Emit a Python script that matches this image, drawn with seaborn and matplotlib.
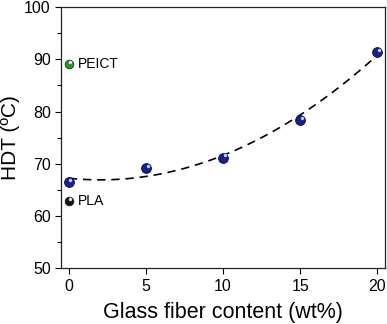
import numpy as np
import pandas as pd
import seaborn as sns
import matplotlib.pyplot as plt
from matplotlib.ticker import MultipleLocator

# glass fiber series (PLA/PEICT blend)
gf_content = [0, 5, 10, 15, 20]
gf_hdt = [66.5, 69.2, 71.2, 78.3, 91.4]

# neat references
ref_names = ["PEICT", "PLA"]
ref_hdt = [89.1, 62.9]
ref_colors = ["#1f9a1f", "#111111"]

df = pd.DataFrame({"gf": gf_content, "hdt": gf_hdt})

sns.set_theme(style="ticks", rc={"text.color": "black", "axes.labelcolor": "black",
                                 "xtick.color": "black", "ytick.color": "black",
                                 "axes.edgecolor": "#222222"})
plt.rcParams['font.family'] = ['Liberation Sans', 'DejaVu Sans']

fig, ax = plt.subplots(figsize=(3.87, 3.24), dpi=100)

# quadratic fit, dashed
sns.regplot(data=df, x="gf", y="hdt", order=2, ci=None, scatter=False, ax=ax,
            line_kws=dict(color="black", lw=1.2, ls=(0, (5, 3.5))))

# sphere-ish markers: dark body + small highlight
sns.scatterplot(data=df, x="gf", y="hdt", ax=ax, s=50, color="#15218f",
                edgecolor="#0a0f50", linewidth=0.6, zorder=5)
ax.scatter(df["gf"] + 0.1, np.array(gf_hdt) + 0.4, s=6, color="#c8ccf0",
           linewidths=0, zorder=6)

for name, val, col in zip(ref_names, ref_hdt, ref_colors):
    ax.scatter([0], [val], s=40, color=col, edgecolor="#222222", linewidth=0.5, zorder=5)
    ax.scatter([0.1], [val + 0.4], s=6, color="#e6e6e6", linewidths=0, zorder=6)
    ax.text(0.6, val, name, fontsize=10, va="center", ha="left")

ax.set_xlim(-0.5, 20.5)
ax.set_ylim(50, 100)
ax.set_xticks([0, 5, 10, 15, 20])
ax.yaxis.set_major_locator(MultipleLocator(10))
ax.yaxis.set_minor_locator(MultipleLocator(5))
ax.tick_params(axis="both", which="major", direction="out", length=4, width=0.8, labelsize=11.5)
ax.tick_params(axis="y", which="minor", direction="out", length=3, width=0.8)
for sp in ax.spines.values():
    sp.set_linewidth(0.9)

ax.set_xlabel("Glass fiber content (wt%)", fontsize=15.5, labelpad=6)
ax.set_ylabel("HDT (ºC)", fontsize=15, labelpad=3)

fig.subplots_adjust(left=0.158, right=0.995, top=0.978, bottom=0.172)
fig.savefig("out.png", dpi=100)
